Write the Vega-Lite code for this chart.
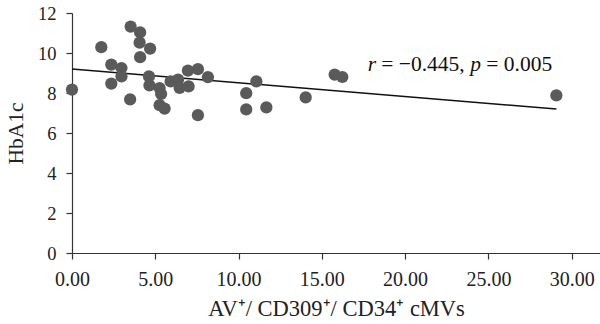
{
  "$schema": "https://vega.github.io/schema/vega-lite/v6.json",
  "width": 528,
  "height": 240,
  "autosize": "none",
  "padding": {"left": 72, "top": 13, "right": 0, "bottom": 71},
  "background": "white",
  "config": {
    "view": {"stroke": null},
    "font": "Liberation Serif"
  },
  "datasets": {
    "pts": [
      {"x": 0, "y": 8.17},
      {"x": 1.76, "y": 10.29},
      {"x": 2.36, "y": 9.42},
      {"x": 2.97, "y": 9.25},
      {"x": 2.36, "y": 8.47},
      {"x": 2.97, "y": 8.83},
      {"x": 3.52, "y": 11.32},
      {"x": 4.09, "y": 11.03},
      {"x": 4.06, "y": 10.52},
      {"x": 4.69, "y": 10.22},
      {"x": 4.09, "y": 9.79},
      {"x": 3.49, "y": 7.68},
      {"x": 4.62, "y": 8.83},
      {"x": 4.65, "y": 8.38},
      {"x": 5.26, "y": 8.25},
      {"x": 5.35, "y": 7.95},
      {"x": 5.26, "y": 7.39},
      {"x": 5.56, "y": 7.22},
      {"x": 5.92, "y": 8.58},
      {"x": 6.37, "y": 8.67},
      {"x": 6.46, "y": 8.25},
      {"x": 7.0, "y": 8.33},
      {"x": 6.96, "y": 9.12},
      {"x": 7.56, "y": 9.19},
      {"x": 8.16, "y": 8.79},
      {"x": 7.56, "y": 6.89},
      {"x": 10.46, "y": 7.99},
      {"x": 10.46, "y": 7.18},
      {"x": 11.07, "y": 8.58},
      {"x": 11.67, "y": 7.28},
      {"x": 14.03, "y": 7.78},
      {"x": 15.77, "y": 8.92},
      {"x": 16.23, "y": 8.8},
      {"x": 29.08, "y": 7.88}
    ],
    "fit": [
      {"x": 0, "y": 9.2},
      {"x": 29.08, "y": 7.2}
    ],
    "ann": [
      {"x": 17.75, "y": 9.12}
    ]
  },
  "encoding": {
    "x": {
      "field": "x", "type": "quantitative",
      "scale": {"domain": [0, 31.7], "nice": false, "zero": false},
      "axis": {
        "title": "AV⁺/ CD309⁺/ CD34⁺ cMVs",
        "values": [0, 5, 10, 15, 20, 25, 30],
        "format": ".2f",
        "grid": false,
        "domainColor": "#333333",
        "domainWidth": 1.2,
        "tickColor": "#333333",
        "tickWidth": 1.2,
        "tickSize": 6,
        "labelFont": "Liberation Serif",
        "labelFontSize": 20,
        "labelColor": "#222222",
        "labelPadding": 10,
        "labelFlush": false,
        "titleFont": "Liberation Serif",
        "titleFontSize": 22.5,
        "titleFontWeight": "normal",
        "titleColor": "#222222",
        "titleBaseline": "alphabetic",
        "titleY": 62
      }
    },
    "y": {
      "field": "y", "type": "quantitative",
      "scale": {"domain": [0, 12], "nice": false},
      "axis": {
        "title": "HbA1c",
        "values": [0, 2, 4, 6, 8, 10, 12],
        "grid": false,
        "domainColor": "#333333",
        "domainWidth": 1.2,
        "tickColor": "#333333",
        "tickWidth": 1.2,
        "tickSize": 6,
        "labelFont": "Liberation Serif",
        "labelFontSize": 18.5,
        "labelColor": "#222222",
        "labelPadding": 10,
        "labelFlush": false,
        "titleFont": "Liberation Serif",
        "titleFontSize": 21.5,
        "titleFontWeight": "normal",
        "titleColor": "#222222",
        "titleAngle": -90,
        "titleBaseline": "middle",
        "titleAlign": "center",
        "titleX": -56,
        "titleY": 120
      }
    }
  },
  "layer": [
    {
      "data": {"name": "fit"},
      "mark": {"type": "line", "color": "#111111", "strokeWidth": 1.5}
    },
    {
      "data": {"name": "pts"},
      "mark": {"type": "circle", "color": "#5a5a5a", "opacity": 1, "size": 150}
    },
    {
      "data": {"name": "ann"},
      "mark": {"type": "text", "text": "r", "fontStyle": "italic", "fontSize": 21.5, "align": "left", "baseline": "alphabetic", "color": "#111111", "font": "Liberation Serif"}
    },
    {
      "data": {"name": "ann"},
      "mark": {"type": "text", "text": "= −0.445,", "fontSize": 21.5, "align": "left", "baseline": "alphabetic", "dx": 13.7, "color": "#111111", "font": "Liberation Serif"}
    },
    {
      "data": {"name": "ann"},
      "mark": {"type": "text", "text": "p", "fontStyle": "italic", "fontSize": 21.5, "align": "left", "baseline": "alphabetic", "dx": 102.5, "color": "#111111", "font": "Liberation Serif"}
    },
    {
      "data": {"name": "ann"},
      "mark": {"type": "text", "text": "= 0.005", "fontSize": 21.5, "align": "left", "baseline": "alphabetic", "dx": 118.7, "color": "#111111", "font": "Liberation Serif"}
    }
  ]
}
